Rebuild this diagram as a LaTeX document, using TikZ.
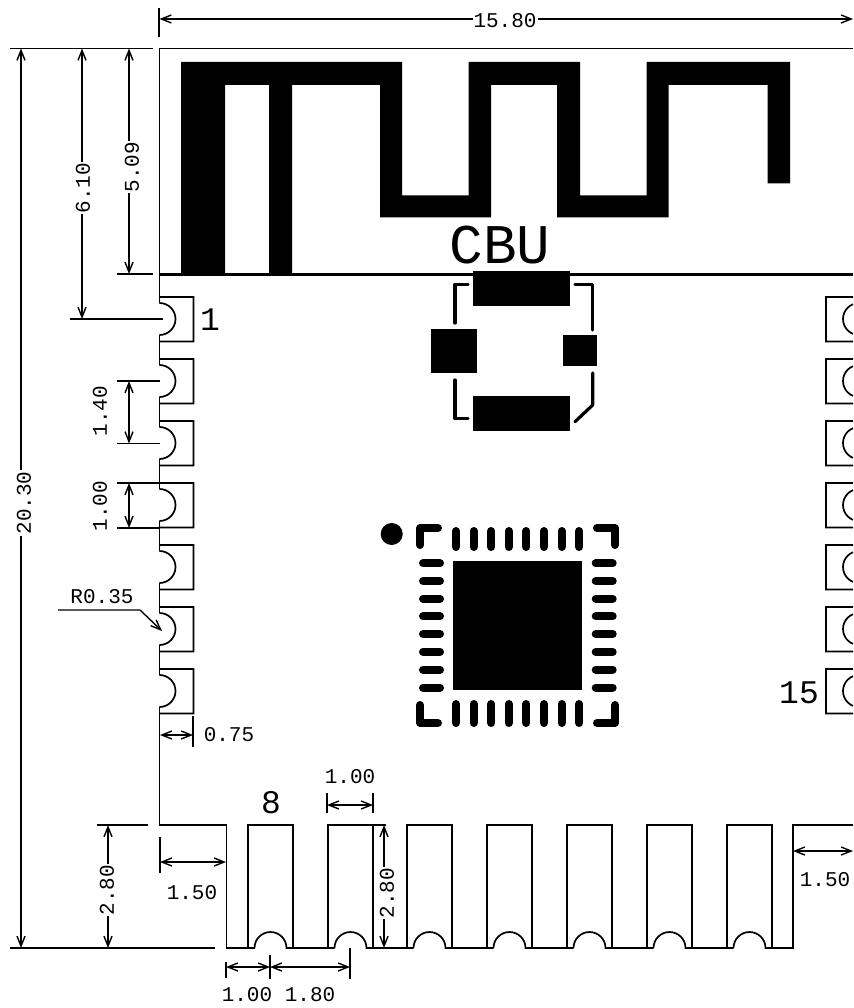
\documentclass[tikz,border=0pt]{standalone}
\usepackage{fontspec}
\usetikzlibrary{arrows.meta}
\newfontfamily\cadfont{Liberation Mono}
\tikzset{
	part/.style={line width=1.7pt},
	dimline/.style={line width=1.4pt, <->, >={Straight Barb[length=10pt,width=8pt]}},
	leader/.style={line width=1.4pt, ->, >={Straight Barb[length=10pt,width=8pt]}},
	extline/.style={line width=1.4pt},
	dimtext/.style={font=\cadfont\fontsize{21}{21}\selectfont, inner sep=1pt},
	gaptext/.style={dimtext, fill=white},
	pintext/.style={font=\cadfont\fontsize{33}{33}\selectfont, inner sep=0pt},
	silk/.style={line width=3.2pt, line cap=round, line join=round},
	qfnpin/.style={line width=8pt, line cap=round, line join=round}
}
\begin{document}
\begin{tikzpicture}[x=1pt,y=-1pt]
	\useasboundingbox (0,0) rectangle (853,1008);

	% board outline
	\draw[part] (853,48.5) -- (159.5,48.5) -- (159.5,303);
	\draw[part] (159.5,707) -- (159.5,825) -- (226.5,825) -- (226.5,948) -- (254.5,948);
	\draw[part] (853,825) -- (793,825) -- (793,948) -- (765.5,948);
	\draw[line width=3pt] (160,274) -- (853,274);

	% antenna
	\fill[black] (181,274) -- (181,62) -- (402,62) -- (402,195.5) -- (468.5,195.5) -- (468.5,62)
		-- (580,62) -- (580,195.5) -- (646.5,195.5) -- (646.5,62) -- (790,62) -- (790,183.5)
		-- (767.5,183.5) -- (767.5,85) -- (668.5,85) -- (668.5,217.5) -- (557,217.5) -- (557,85)
		-- (491,85) -- (491,217.5) -- (380,217.5) -- (380,85) -- (292,85) -- (292,274)
		-- (269,274) -- (269,85) -- (225,85) -- (225,274) -- cycle;

	% left pads
	\foreach \y in {319,381,443,505,567,629,691}
	\draw[part] (159.5,\y-22) -- (193.5,\y-22) -- (193.5,\y+22.5) -- (159.5,\y+22.5)
		(159.5,\y-16) arc[start angle=-90,end angle=90,radius=16];
	\foreach \y in {335,397,459,521,583,645}
	\draw[part] (159.5,\y) -- (159.5,\y+30);

	% right pads
	\foreach \y in {319,381,443,505,567,629,691}
	\draw[part] (853,\y-22) -- (826,\y-22) -- (826,\y+22.5) -- (853,\y+22.5)
		(853,\y-14.8) arc[start angle=-112,end angle=-248,radius=16];

	% bottom pads
	\foreach \x/\xnext in {248/328,328/407,407/487,487/567,567/647,647/727,727/786.5}
	\draw[part] (\x,948) -- (\x,825) -- (\x+45,825) -- (\x+45,948)
		(\x+6.5,948) arc[start angle=-180,end angle=0,radius=16] -- (\xnext+6.5,948);

	% rf part
	\fill[black] (472.7,271) rectangle (570,306);
	\fill[black] (472.7,396) rectangle (570,431);
	\fill[black] (431,329) rectangle (477,373);
	\fill[black] (563,335) rectangle (597,366);
	\draw[silk] (468,284.5) -- (455,284.5) -- (455,323);
	\draw[silk] (575,284.5) -- (592.7,284.5) -- (592.7,330);
	\draw[silk] (455,380) -- (455,418.5) -- (468,418.5);
	\draw[silk] (592.7,373) -- (592.7,405) -- (575,421.7);

	% chip
	\fill[black] (391.7,534) circle (11);
	\fill[black] (453,561) rectangle (581.7,690);
	\foreach \x in {456,473.6,491.2,508.8,526.4,544,561.6,579.2}
	\draw[qfnpin] (\x,531) -- (\x,547) (\x,704) -- (\x,723);
	\foreach \y in {563.3,581,598.7,616.4,634.1,651.8,669.5,687.5}
	\draw[qfnpin] (423,\y) -- (440,\y) (595.7,\y) -- (612.7,\y);
	\draw[qfnpin] (420,545) -- (420,528) -- (438,528);
	\draw[qfnpin] (597,528) -- (615,528) -- (615,545);
	\draw[qfnpin] (420,705) -- (420,723) -- (438,723);
	\draw[qfnpin] (597,723) -- (615,723) -- (615,705);

	% extension lines
	\draw[extline] (159,8) -- (159,37);
	\draw[extline] (10,48.5) -- (153,48.5);
	\draw[extline] (117,274) -- (153,274);
	\draw[extline] (70,319) -- (163,319);
	\draw[extline] (117,381) -- (160,381);
	\draw[extline] (117,443.5) -- (160,443.5);
	\draw[extline] (117,483) -- (159,483);
	\draw[extline] (117,528) -- (159,528);
	\draw[extline] (193,716) -- (193,747);
	\draw[extline] (327,793) -- (327,813);
	\draw[extline] (373,793) -- (373,813);
	\draw[extline] (97,825) -- (148,825);
	\draw[extline] (10,948) -- (215,948);
	\draw[extline] (373,825) -- (386,825);
	\draw[extline] (373,948) -- (386,948);
	\draw[extline] (160,837) -- (160,873);
	\draw[extline] (226.5,835) -- (226.5,873);
	\draw[extline] (793,837) -- (793,862);
	\draw[extline] (226,962) -- (226,978);
	\draw[extline] (270,955) -- (270,979);
	\draw[extline] (350,948) -- (350,979);

	% dimensions
	\draw[dimline] (159.5,19) -- (853,19);
	\draw[dimline] (21,48.5) -- (21,948);
	\draw[dimline] (82,48.5) -- (82,319);
	\draw[dimline] (129,48.5) -- (129,274);
	\draw[dimline] (129,381) -- (129,443.5);
	\draw[dimline] (129,483) -- (129,528);
	\draw[dimline] (160,735) -- (193,735);
	\draw[dimline] (327,805) -- (373,805);
	\draw[dimline] (108,825) -- (108,948);
	\draw[dimline] (384,825) -- (384,948);
	\draw[dimline] (160,862) -- (226,862);
	\draw[dimline] (793,851) -- (853,851);
	\draw[dimline] (226,967) -- (270,967);
	\draw[dimline] (270,967) -- (350,967);
	\draw[leader] (58,610) -- (140,610) -- (162,631);

	% labels
	\node[gaptext] (width) at (505,21) {15.80};
	\node[gaptext,rotate=90] (height) at (24,503) {20.30};
	\node[gaptext,rotate=90] (antoff) at (83,188) {6.10};
	\node[gaptext,rotate=90] (antlen) at (132,167) {5.09};
	\node[dimtext,rotate=90] (pitch) at (100,411) {1.40};
	\node[dimtext,rotate=90] (padw) at (100,506) {1.00};
	\node[dimtext] (radius) at (102,597) {R0.35};
	\node[dimtext] (padlen) at (229,735) {0.75};
	\node[dimtext] (botw) at (350,777) {1.00};
	\node[gaptext,rotate=90] (botl) at (107,890) {2.80};
	\node[gaptext,rotate=90] (botr) at (387,893) {2.80};
	\node[dimtext] (edgel) at (192,893) {1.50};
	\node[dimtext] (edger) at (825,880) {1.50};
	\node[dimtext] (firstw) at (247,995) {1.00};
	\node[dimtext] (firstp) at (310,995) {1.80};

	\node[pintext] (pina) at (210,320) {1};
	\node[pintext] (pinb) at (271,803) {8};
	\node[pintext] (pinc) at (799,693) {15};
	\node[font=\cadfont\fontsize{56}{56}\selectfont, inner sep=0pt] (brand) at (500,245) {CBU};
\end{tikzpicture}
\end{document}
